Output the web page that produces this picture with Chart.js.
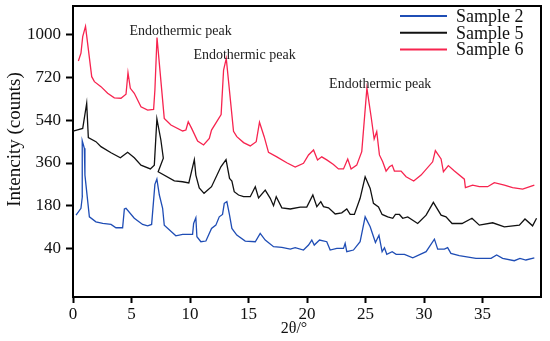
<!DOCTYPE html>
<html>
<head>
<meta charset="utf-8">
<script src="https://cdn.jsdelivr.net/npm/chart.js@4.4.1/dist/chart.umd.min.js"></script>
<style>html,body{margin:0;padding:0;background:#fff}</style>
</head>
<body>
<canvas id="xrd" width="550" height="341"></canvas>
<script>
(function () {
    "use strict";

    // 2θ positions and intensities
    const sample2X = [0.26, 0.68, 0.8, 0.78, 0.8, 0.97, 1.02, 1.4, 1.96, 2.54, 3.25, 3.67, 4.24, 4.39, 4.53, 5.24, 5.95, 6.38, 6.72, 7.0, 7.17, 7.38, 7.66, 7.8, 8.79, 9.37, 10.22, 10.31, 10.5, 10.59, 10.93, 11.36, 11.84, 12.21, 12.5, 12.78, 12.93, 13.15, 13.38, 13.58, 14.0, 14.72, 15.58, 16.0, 16.43, 17.14, 17.85, 18.57, 18.99, 19.7, 20.13, 20.41, 20.62, 21.07, 21.69, 21.98, 22.55, 23.12, 23.26, 23.4, 23.97, 24.54, 24.77, 24.97, 25.4, 25.85, 26.15, 26.42, 26.62, 26.82, 27.28, 27.62, 28.33, 29.04, 30.18, 30.89, 31.17, 31.74, 32.02, 32.3, 33.01, 34.44, 35.73, 36.21, 36.72, 37.72, 38.2, 38.71, 39.43];
    const sample2Y = [140, 169, 220, 265, 454, 422, 309, 133, 112, 105, 101, 87, 87, 166, 169, 127, 101, 95, 101, 270, 292, 225, 169, 98, 53, 59, 59, 105, 129, 49, 28, 31, 84, 98, 133, 143, 190, 197, 140, 84, 56, 31, 28, 63, 35, 7, 4, -3, 3, -7, 14, 35, 14, 35, 28, -7, 0, 0, 21, -14, -7, 28, 84, 133, 91, 25, 55, -14, 3, -25, -14, -25, -25, -40, -14, 39, -3, -3, 3, -21, -31, -42, -42, -28, -42, -52, -42, -49, -40];

    const sample5X = [0, 0.83, 1.17, 1.31, 1.96, 2.39, 3.25, 4.05, 4.67, 5.24, 5.81, 6.61, 6.95, 7.17, 7.51, 7.72, 7.28, 8.66, 9.37, 9.9, 10.37, 10.5, 10.79, 11.2, 11.84, 12.64, 13.08, 13.38, 13.58, 13.78, 14.15, 14.58, 15.15, 15.58, 15.86, 16.43, 16.86, 17.14, 17.37, 17.85, 18.57, 19.42, 19.98, 20.5, 20.84, 21.18, 21.41, 21.84, 22.41, 22.97, 23.4, 23.69, 24.05, 24.54, 24.97, 25.4, 25.68, 26.11, 26.42, 26.9, 27.33, 27.56, 27.9, 28.18, 28.61, 29.46, 30.18, 30.8, 31.46, 31.88, 32.4, 33.25, 34.1, 34.73, 35.87, 36.87, 38.15, 38.63, 39.28, 39.62];
    const sample5Y = [494, 506, 612, 467, 450, 429, 403, 382, 405, 382, 351, 335, 351, 546, 457, 380, 323, 285, 281, 276, 374, 309, 255, 232, 260, 344, 374, 295, 284, 239, 225, 218, 218, 260, 213, 246, 211, 180, 218, 171, 166, 174, 174, 225, 176, 197, 176, 171, 145, 150, 166, 143, 143, 211, 302, 253, 190, 175, 143, 133, 127, 143, 143, 127, 133, 105, 140, 194, 140, 133, 105, 105, 127, 98, 108, 91, 98, 124, 95, 127];

    const sample6X = [0.46, 0.68, 0.83, 1.07, 1.6, 1.83, 2.39, 2.96, 3.53, 4.1, 4.53, 4.7, 4.9, 5.24, 5.81, 6.38, 6.89, 7.0, 7.18, 7.8, 8.37, 9.37, 9.65, 9.85, 10.14, 10.65, 11.16, 11.65, 11.84, 12.66, 12.87, 13.1, 13.72, 14.0, 14.58, 15.15, 15.66, 15.94, 16.34, 16.71, 17.42, 18.27, 18.99, 19.7, 20.13, 20.56, 20.9, 21.26, 21.69, 22.26, 22.69, 23.12, 23.48, 23.77, 24.25, 24.68, 25.12, 25.48, 25.74, 25.96, 26.19, 26.47, 26.76, 27.05, 27.28, 27.47, 28.04, 28.47, 29.12, 29.75, 30.74, 30.97, 31.46, 31.66, 32.08, 32.6, 33.45, 33.54, 34.16, 34.73, 35.44, 36.01, 36.87, 37.57, 38.43, 39.43];
    const sample6Y = [790, 823, 893, 936, 724, 703, 682, 654, 635, 633, 650, 741, 675, 654, 597, 583, 586, 668, 889, 548, 520, 495, 499, 534, 506, 453, 436, 464, 499, 564, 752, 801, 494, 471, 446, 432, 450, 532, 471, 405, 386, 361, 343, 359, 394, 415, 373, 386, 373, 354, 335, 335, 377, 335, 351, 408, 676, 555, 461, 492, 394, 365, 326, 344, 351, 326, 326, 302, 284, 309, 365, 412, 377, 323, 349, 326, 292, 256, 267, 260, 260, 277, 267, 256, 250, 267];

    const seriesNames = ["Sample 2", "Sample 5", "Sample 6"];
    const seriesColors = ["#1f4db5", "#111111", "#f7244f"];

    // evenly spaced axis, printed labels differ from a linear count scale
    const yTickValues = [0, 180, 360, 540, 720, 900];
    const yTickLabels = ["40", "180", "360", "540", "720", "1000"];
    const xTickValues = [0, 5, 10, 15, 20, 25, 30, 35];

    const peakLabelX = [9.2, 14.66, 26.26];
    const peakLabelY = [917, 813, 693];
    const peakText = "Endothermic peak";

    const toPoints = (xs, ys) => xs.map((x, i) => ({ x: x, y: ys[i] }));

    const serif = "'Liberation Serif', 'Times New Roman', serif";
    Chart.defaults.font.family = serif;
    Chart.defaults.color = "#000";

    const extras = {
        id: "extras",
        afterDraw(chart) {
            const ctx = chart.ctx;
            const area = chart.chartArea;
            const xs = chart.scales.x;
            const ys = chart.scales.y;
            ctx.save();

            // top and right frame
            ctx.strokeStyle = "#000";
            ctx.lineWidth = 2;
            ctx.beginPath();
            ctx.moveTo(area.left, area.top);
            ctx.lineTo(area.right, area.top);
            ctx.lineTo(area.right, area.bottom);
            ctx.stroke();

            // peak annotations
            ctx.fillStyle = "#222";
            ctx.font = "14px " + serif;
            ctx.textAlign = "center";
            ctx.textBaseline = "middle";
            peakLabelX.forEach((x, i) => {
                ctx.fillText(peakText, xs.getPixelForValue(x), ys.getPixelForValue(peakLabelY[i]));
            });

            // legend, top right inside the frame
            ctx.font = "18px " + serif;
            ctx.textAlign = "left";
            chart.data.datasets.forEach((ds, i) => {
                const y = area.top + 10 + i * 16.8;
                ctx.strokeStyle = ds.borderColor;
                ctx.lineWidth = 2;
                ctx.beginPath();
                ctx.moveTo(area.right - 141, y);
                ctx.lineTo(area.right - 94, y);
                ctx.stroke();
                ctx.fillStyle = "#111";
                ctx.fillText(ds.label, area.right - 85, y + 1);
            });

            // axis titles
            ctx.fillStyle = "#111";
            ctx.textAlign = "center";
            ctx.font = "16px " + serif;
            ctx.fillText("2θ/°", 294, 329);
            ctx.font = "19px " + serif;
            ctx.translate(15, 139.5);
            ctx.rotate(-Math.PI / 2);
            ctx.fillText("Intencity (counts)", 0, 0);
            ctx.restore();
        },
    };

    const ctx = document.getElementById("xrd").getContext("2d");
    new Chart(ctx, {
        type: "line",
        data: {
            datasets: [
                { label: seriesNames[0], data: toPoints(sample2X, sample2Y), borderColor: seriesColors[0] },
                { label: seriesNames[1], data: toPoints(sample5X, sample5Y), borderColor: seriesColors[1] },
                { label: seriesNames[2], data: toPoints(sample6X, sample6Y), borderColor: seriesColors[2] },
            ].map((d) => Object.assign(d, {
                borderWidth: 1.3,
                pointRadius: 0,
                tension: 0,
                fill: false,
            })),
        },
        options: {
            responsive: false,
            animation: false,
            layout: { padding: { top: 6, right: 9, left: 0, bottom: 0 } },
            plugins: {
                legend: { display: false },
                tooltip: { enabled: false },
            },
            scales: {
                x: {
                    type: "linear",
                    min: 0,
                    max: 40,
                    afterBuildTicks: (s) => {
                        s.ticks = xTickValues.map((v) => ({ value: v }));
                    },
                    afterFit: (s) => {
                        s.height = 44;
                        s.paddingLeft = 0;
                        s.paddingRight = 0;
                    },
                    ticks: {
                        font: { size: 17 },
                        color: "#111",
                        padding: 1,
                        maxRotation: 0,
                    },
                    grid: {
                        drawOnChartArea: false,
                        drawTicks: true,
                        tickLength: 6,
                        tickWidth: 2,
                        tickColor: "#000",
                    },
                    border: { color: "#000", width: 2 },
                },
                y: {
                    type: "linear",
                    min: -205,
                    max: 1022,
                    afterBuildTicks: (s) => {
                        s.ticks = yTickValues.map((v) => ({ value: v }));
                    },
                    afterFit: (s) => {
                        s.width = 73;
                        s.paddingTop = 0;
                        s.paddingBottom = 0;
                    },
                    ticks: {
                        font: { size: 17 },
                        color: "#111",
                        padding: 5,
                        callback: (v) => yTickLabels[yTickValues.indexOf(v)],
                    },
                    grid: {
                        drawOnChartArea: false,
                        drawTicks: true,
                        tickLength: 7,
                        tickWidth: 2,
                        tickColor: "#000",
                    },
                    border: { color: "#000", width: 2 },
                },
            },
        },
        plugins: [extras],
    });
})();
</script>
</body>
</html>
